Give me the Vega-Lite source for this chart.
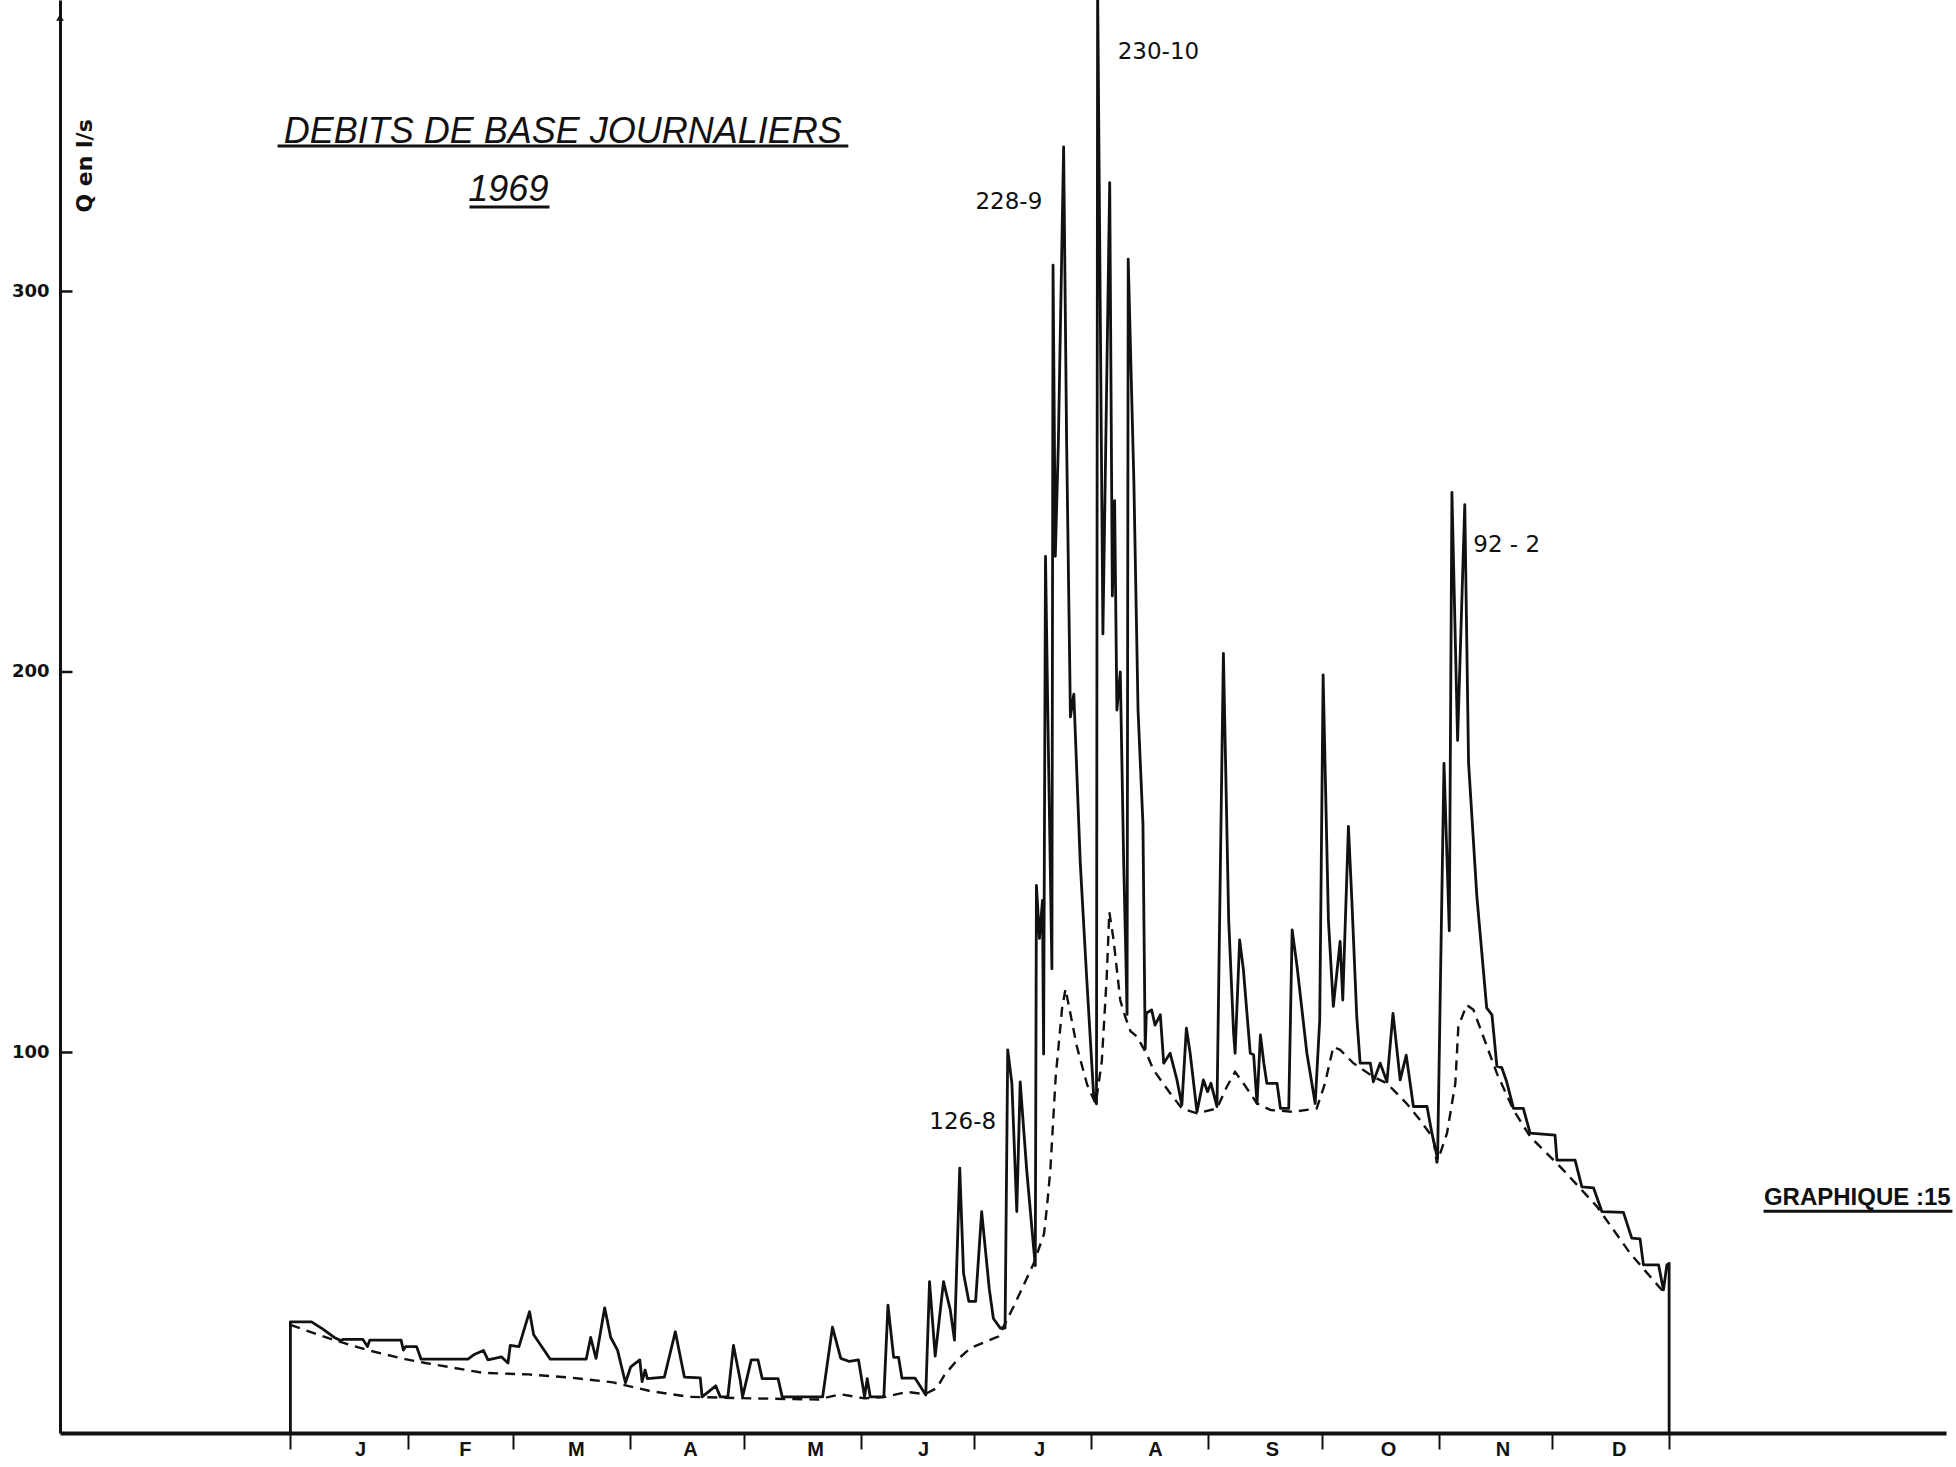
{
  "$schema": "https://vega.github.io/schema/vega-lite/v6.json",
  "width": 1886,
  "height": 1433,
  "autosize": "none",
  "padding": {"left": 60, "top": 0, "right": 10, "bottom": 34},
  "background": "white",
  "config": {"view": {"stroke": null}, "font": "Liberation Sans"},
  "datasets": {
    "debits": [
      {"d": 0, "q": 0}, {"d": 0, "q": 29.2}, {"d": 5.6, "q": 29.2}, {"d": 8.6, "q": 27.3}, {"d": 11.6, "q": 25.1},
      {"d": 13.3, "q": 24.3}, {"d": 14, "q": 24.6}, {"d": 19.2, "q": 24.6}, {"d": 20.4, "q": 22.7}, {"d": 21, "q": 24.4},
      {"d": 29.3, "q": 24.4}, {"d": 29.9, "q": 21.8}, {"d": 30.5, "q": 22.7}, {"d": 33.4, "q": 22.7}, {"d": 34.6, "q": 19.4},
      {"d": 47, "q": 19.4}, {"d": 48.8, "q": 20.7}, {"d": 51.1, "q": 21.7}, {"d": 52.3, "q": 19.2}, {"d": 55.9, "q": 20},
      {"d": 57.6, "q": 18.4}, {"d": 58.2, "q": 23}, {"d": 60.5, "q": 22.7}, {"d": 63.3, "q": 31.9}, {"d": 64.4, "q": 25.8},
      {"d": 68.8, "q": 19.4}, {"d": 78.3, "q": 19.4}, {"d": 79.5, "q": 25.1}, {"d": 80.9, "q": 19.6}, {"d": 83.2, "q": 32.9},
      {"d": 84.8, "q": 25.1}, {"d": 86.6, "q": 21.8}, {"d": 88.7, "q": 13.2}, {"d": 90.1, "q": 17.4}, {"d": 92.5, "q": 19.2},
      {"d": 93.1, "q": 13.5}, {"d": 93.9, "q": 16.5}, {"d": 94.5, "q": 14.3}, {"d": 99, "q": 14.7}, {"d": 101.9, "q": 26.6},
      {"d": 104.3, "q": 14.7}, {"d": 108.5, "q": 14.5}, {"d": 109, "q": 9.5}, {"d": 112.6, "q": 12.4}, {"d": 113.8, "q": 9.5},
      {"d": 115.8, "q": 9.5}, {"d": 117.3, "q": 23}, {"d": 119.1, "q": 13.8}, {"d": 119.7, "q": 9.5}, {"d": 122, "q": 19.2},
      {"d": 123.8, "q": 19.2}, {"d": 124.9, "q": 14.3}, {"d": 129.1, "q": 14.3}, {"d": 130.2, "q": 9.5}, {"d": 140.9, "q": 9.5},
      {"d": 143.5, "q": 27.8}, {"d": 145.7, "q": 19.6}, {"d": 148, "q": 18.8}, {"d": 150.4, "q": 19.2}, {"d": 152, "q": 9.5},
      {"d": 152.7, "q": 14.3}, {"d": 153.5, "q": 9.5}, {"d": 157.1, "q": 9.5}, {"d": 158.2, "q": 33.6}, {"d": 159.7, "q": 19.9},
      {"d": 161, "q": 19.9}, {"d": 161.9, "q": 14.4}, {"d": 165.4, "q": 14.4}, {"d": 168.2, "q": 10}, {"d": 169.2, "q": 39.8},
      {"d": 170.7, "q": 20.2}, {"d": 172.9, "q": 39.8}, {"d": 174.7, "q": 32.3}, {"d": 175.8, "q": 24.4}, {"d": 177.2, "q": 69.6},
      {"d": 178.2, "q": 42}, {"d": 179.6, "q": 34.6}, {"d": 181.4, "q": 34.6}, {"d": 183, "q": 58.2}, {"d": 185, "q": 38},
      {"d": 186.1, "q": 30.1}, {"d": 187.9, "q": 27.6}, {"d": 189.2, "q": 27.6}, {"d": 189.9, "q": 100.7}, {"d": 191, "q": 91.9},
      {"d": 192.3, "q": 58.2}, {"d": 193.2, "q": 92.3}, {"d": 194.9, "q": 69.4}, {"d": 196.7, "q": 49.3}, {"d": 197.2, "q": 44},
      {"d": 197.5, "q": 143.9}, {"d": 198.3, "q": 130}, {"d": 199.1, "q": 140}, {"d": 199.4, "q": 99.6}, {"d": 199.9, "q": 230.4},
      {"d": 200.5, "q": 190}, {"d": 201.6, "q": 122}, {"d": 201.9, "q": 306.9}, {"d": 202.5, "q": 230.4}, {"d": 203.3, "q": 260},
      {"d": 204.7, "q": 338}, {"d": 205.5, "q": 260}, {"d": 206.5, "q": 188.2}, {"d": 207.4, "q": 194.2}, {"d": 209.1, "q": 149.9},
      {"d": 210.8, "q": 119.7}, {"d": 212.6, "q": 89.5}, {"d": 213.4, "q": 86.5}, {"d": 213.7, "q": 380}, {"d": 215.1, "q": 210},
      {"d": 216.9, "q": 328.6}, {"d": 217.6, "q": 220}, {"d": 218.2, "q": 245}, {"d": 218.8, "q": 190}, {"d": 219.7, "q": 200},
      {"d": 220.6, "q": 150}, {"d": 221.2, "q": 124}, {"d": 221.5, "q": 110}, {"d": 221.8, "q": 308.5}, {"d": 223.3, "q": 250},
      {"d": 224.4, "q": 190}, {"d": 225.7, "q": 160}, {"d": 226.3, "q": 101}, {"d": 226.6, "q": 110.3}, {"d": 228, "q": 111.2},
      {"d": 228.9, "q": 107.2}, {"d": 230.3, "q": 109.9}, {"d": 231.2, "q": 97.2}, {"d": 232.9, "q": 99.8}, {"d": 234.7, "q": 92.8},
      {"d": 236, "q": 86.2}, {"d": 237.2, "q": 106.4}, {"d": 238.2, "q": 99.8}, {"d": 240, "q": 84.4}, {"d": 241.7, "q": 92.8},
      {"d": 242.8, "q": 89.7}, {"d": 243.7, "q": 91.9}, {"d": 245.3, "q": 85.8}, {"d": 247, "q": 204.9}, {"d": 248.4, "q": 134.8},
      {"d": 249.7, "q": 105}, {"d": 250.1, "q": 99.8}, {"d": 251.3, "q": 129.6}, {"d": 252.3, "q": 121.7}, {"d": 254.1, "q": 99.8},
      {"d": 255, "q": 99.4}, {"d": 255.9, "q": 86.6}, {"d": 256.8, "q": 104.6}, {"d": 257.7, "q": 97.2}, {"d": 258.5, "q": 91.9},
      {"d": 261.2, "q": 91.9}, {"d": 262.1, "q": 85.3}, {"d": 264.3, "q": 85.3}, {"d": 265.2, "q": 132.2}, {"d": 266.5, "q": 122.6},
      {"d": 269.1, "q": 99.8}, {"d": 271.3, "q": 86.6}, {"d": 272.5, "q": 108.5}, {"d": 273.4, "q": 199.2}, {"d": 274.8, "q": 134.8},
      {"d": 276.1, "q": 112.1}, {"d": 277.9, "q": 129.2}, {"d": 278.6, "q": 113.8}, {"d": 280.1, "q": 159.4}, {"d": 281, "q": 140.1},
      {"d": 282.3, "q": 109.4}, {"d": 283.2, "q": 97.2}, {"d": 285.9, "q": 97.2}, {"d": 286.7, "q": 92.3}, {"d": 288.5, "q": 97.2},
      {"d": 290.3, "q": 92.3}, {"d": 291.9, "q": 110.3}, {"d": 293.8, "q": 92.8}, {"d": 295.4, "q": 99.3}, {"d": 297.3, "q": 85.8},
      {"d": 300.9, "q": 85.8}, {"d": 302.2, "q": 78.8}, {"d": 303.7, "q": 72}, {"d": 305.4, "q": 176}, {"d": 306.8, "q": 132},
      {"d": 307.5, "q": 247.2}, {"d": 309, "q": 182}, {"d": 310.9, "q": 244}, {"d": 311.9, "q": 176.2}, {"d": 314.1, "q": 141},
      {"d": 316.7, "q": 111.7}, {"d": 318.1, "q": 109.9}, {"d": 319.4, "q": 96.4}, {"d": 320.7, "q": 96}, {"d": 322, "q": 92.3},
      {"d": 323.8, "q": 85.3}, {"d": 326.4, "q": 85.3}, {"d": 328.2, "q": 78.8}, {"d": 334.8, "q": 78.3}, {"d": 335.3, "q": 71.7},
      {"d": 340.1, "q": 71.7}, {"d": 341.9, "q": 64.7}, {"d": 345, "q": 64.4}, {"d": 347.2, "q": 58.2}, {"d": 352.9, "q": 58},
      {"d": 355.1, "q": 51.2}, {"d": 357.3, "q": 51}, {"d": 358.2, "q": 44.2}, {"d": 362.2, "q": 44.2}, {"d": 363.5, "q": 37.6},
      {"d": 364.4, "q": 44.2}, {"d": 365, "q": 44.6}, {"d": 365, "q": 0}
    ],
    "base": [
      {"d": 0, "q": 28.4}, {"d": 11, "q": 24.6}, {"d": 20.4, "q": 21.8}, {"d": 30.4, "q": 19.4}, {"d": 35.7, "q": 18.4},
      {"d": 51.1, "q": 15.8}, {"d": 63, "q": 15.4}, {"d": 74.8, "q": 14.5}, {"d": 85.4, "q": 13.3}, {"d": 94.9, "q": 11.1},
      {"d": 105.5, "q": 9.5}, {"d": 122, "q": 9.1}, {"d": 139.8, "q": 8.8}, {"d": 145.6, "q": 10.2}, {"d": 152, "q": 9.1},
      {"d": 157.5, "q": 9.5}, {"d": 163.3, "q": 10.8}, {"d": 168, "q": 10.2}, {"d": 171.1, "q": 11.8}, {"d": 173, "q": 15},
      {"d": 176.5, "q": 19.2}, {"d": 180, "q": 22.3}, {"d": 187.5, "q": 25.4}, {"d": 191.5, "q": 33.3}, {"d": 196.8, "q": 44.6},
      {"d": 199.5, "q": 52.3}, {"d": 200.3, "q": 59.5}, {"d": 201.2, "q": 69.4}, {"d": 202.6, "q": 93.6}, {"d": 204.3, "q": 111.7},
      {"d": 205.2, "q": 116.7}, {"d": 208.2, "q": 101.6}, {"d": 210.9, "q": 91.6}, {"d": 213.2, "q": 86.5}, {"d": 214.8, "q": 97.6},
      {"d": 216.1, "q": 119.7}, {"d": 216.8, "q": 136.9}, {"d": 217.9, "q": 129.8}, {"d": 219.7, "q": 113.7}, {"d": 221, "q": 109.4},
      {"d": 222.4, "q": 105.6}, {"d": 224.1, "q": 104.2}, {"d": 226.7, "q": 99.6}, {"d": 228.5, "q": 95.4}, {"d": 232.9, "q": 89.3},
      {"d": 236, "q": 85.3}, {"d": 240, "q": 84}, {"d": 245.3, "q": 85.3}, {"d": 247.9, "q": 91}, {"d": 250.1, "q": 94.9},
      {"d": 252.3, "q": 91.9}, {"d": 255.9, "q": 86.6}, {"d": 259.4, "q": 84.9}, {"d": 265.5, "q": 84.4}, {"d": 271.7, "q": 85.3},
      {"d": 273.9, "q": 91.9}, {"d": 276.1, "q": 101.5}, {"d": 277.9, "q": 100.7}, {"d": 281.4, "q": 97.2}, {"d": 286.7, "q": 93.6},
      {"d": 290.3, "q": 91.9}, {"d": 295.5, "q": 86.6}, {"d": 299, "q": 82.3}, {"d": 302.6, "q": 77.4}, {"d": 303.5, "q": 70.9},
      {"d": 306.2, "q": 78.8}, {"d": 308.4, "q": 91.9}, {"d": 309.2, "q": 106.8}, {"d": 311.4, "q": 112.5}, {"d": 313.2, "q": 111.2},
      {"d": 315.8, "q": 104.2}, {"d": 319.4, "q": 94.5}, {"d": 323.8, "q": 84.9}, {"d": 328.2, "q": 77.9}, {"d": 337, "q": 69.1},
      {"d": 345.9, "q": 59.5}, {"d": 354.7, "q": 47.2}, {"d": 360, "q": 41.1}, {"d": 363.5, "q": 37.1}
    ]
  },
  "encoding": {
    "x": {"field": "d", "type": "quantitative", "scale": {"domain": [-61, 438.3], "nice": false, "zero": false}},
    "y": {"field": "q", "type": "quantitative", "scale": {"domain": [0, 376.6], "nice": false}}
  },
  "layer": [
    {
      "data": {"name": "debits"},
      "mark": {"type": "line", "clip": true, "color": "#111", "strokeWidth": 2.8, "strokeJoin": "round"},
      "encoding": {
        "x": {
          "field": "d", "type": "quantitative",
          "axis": {
            "values": [0, 31, 59, 90, 120, 151, 181, 212, 243, 273, 304, 334, 365],
            "labels": false, "tickSize": 16, "tickWidth": 2, "tickColor": "#111",
            "domainWidth": 4, "domainColor": "#111", "grid": false, "title": null
          }
        },
        "y": {
          "field": "q", "type": "quantitative",
          "axis": {
            "values": [100, 200, 300], "ticks": false,
            "labelPadding": 11, "labelFont": "DejaVu Sans", "labelFontSize": 18, "labelFontWeight": "bold", "labelColor": "#111",
            "domainWidth": 3, "domainColor": "#111", "grid": false, "title": null
          }
        }
      }
    },
    {
      "data": {"name": "base"},
      "mark": {"type": "line", "color": "#111", "strokeWidth": 2.4, "strokeDash": [10, 7]},
      "encoding": {}
    },
    {
      "data": {"values": [{"d": -61, "q": 100}, {"d": -61, "q": 200}, {"d": -61, "q": 300}]},
      "mark": {"type": "tick", "orient": "horizontal", "size": 13, "thickness": 2.5, "xOffset": 6, "color": "#111", "opacity": 1, "clip": false},
      "encoding": {}
    },
    {
      "data": {"values": [{"d": -61, "q": 372}]},
      "mark": {"type": "point", "shape": "triangle-up", "filled": true, "color": "#111", "size": 60, "opacity": 1, "clip": false},
      "encoding": {}
    },
    {
      "data": {"values": [
        {"d": -3.4, "d2": 147.7, "q": 338.2},
        {"d": 47.4, "d2": 68.6, "q": 322.2},
        {"d": 390, "d2": 440, "q": 58.3}
      ]},
      "mark": {"type": "rule", "color": "#111", "strokeWidth": 3, "clip": false},
      "encoding": {"x2": {"field": "d2"}}
    },
    {
      "data": {"values": [
        {"d": 72.1, "q": 342, "t": "DEBITS DE  BASE JOURNALIERS"},
        {"d": 57.7, "q": 326.7, "t": "1969"}
      ]},
      "mark": {"type": "text", "fontSize": 36, "fontStyle": "italic", "color": "#111", "baseline": "middle", "align": "center"},
      "encoding": {"text": {"field": "t"}}
    },
    {
      "data": {"values": [{"d": -54.3, "q": 333, "t": "Q en l/s"}]},
      "mark": {"type": "text", "font": "DejaVu Sans", "fontSize": 22, "fontWeight": "bold", "angle": 270, "color": "#111", "baseline": "middle", "align": "center"},
      "encoding": {"text": {"field": "t"}}
    },
    {
      "data": {"values": [
        {"d": 229.8, "q": 363, "t": "230-10"},
        {"d": 190.2, "q": 323.5, "t": "228-9"},
        {"d": 178, "q": 81.8, "t": "126-8"},
        {"d": 322, "q": 233.3, "t": "92 - 2"}
      ]},
      "mark": {"type": "text", "font": "DejaVu Sans", "fontSize": 23, "color": "#111", "baseline": "middle", "align": "center"},
      "encoding": {"text": {"field": "t"}}
    },
    {
      "data": {"values": [{"d": 414.8, "q": 61.8, "t": "GRAPHIQUE :15"}]},
      "mark": {"type": "text", "fontSize": 24, "fontWeight": "bold", "color": "#111", "baseline": "middle", "align": "center"},
      "encoding": {"text": {"field": "t"}}
    },
    {
      "data": {"values": [
        {"d": 18.6, "q": -4.5, "m": "J"}, {"d": 46.3, "q": -4.5, "m": "F"}, {"d": 75.7, "q": -4.5, "m": "M"},
        {"d": 105.9, "q": -4.5, "m": "A"}, {"d": 139, "q": -4.5, "m": "M"}, {"d": 167.6, "q": -4.5, "m": "J"},
        {"d": 198.3, "q": -4.5, "m": "J"}, {"d": 229, "q": -4.5, "m": "A"}, {"d": 260, "q": -4.5, "m": "S"},
        {"d": 290.7, "q": -4.5, "m": "O"}, {"d": 321, "q": -4.5, "m": "N"}, {"d": 351.8, "q": -4.5, "m": "D"}
      ]},
      "mark": {"type": "text", "fontSize": 20, "fontWeight": "bold", "color": "#111", "baseline": "middle", "align": "center", "clip": false},
      "encoding": {"text": {"field": "m"}}
    }
  ]
}
